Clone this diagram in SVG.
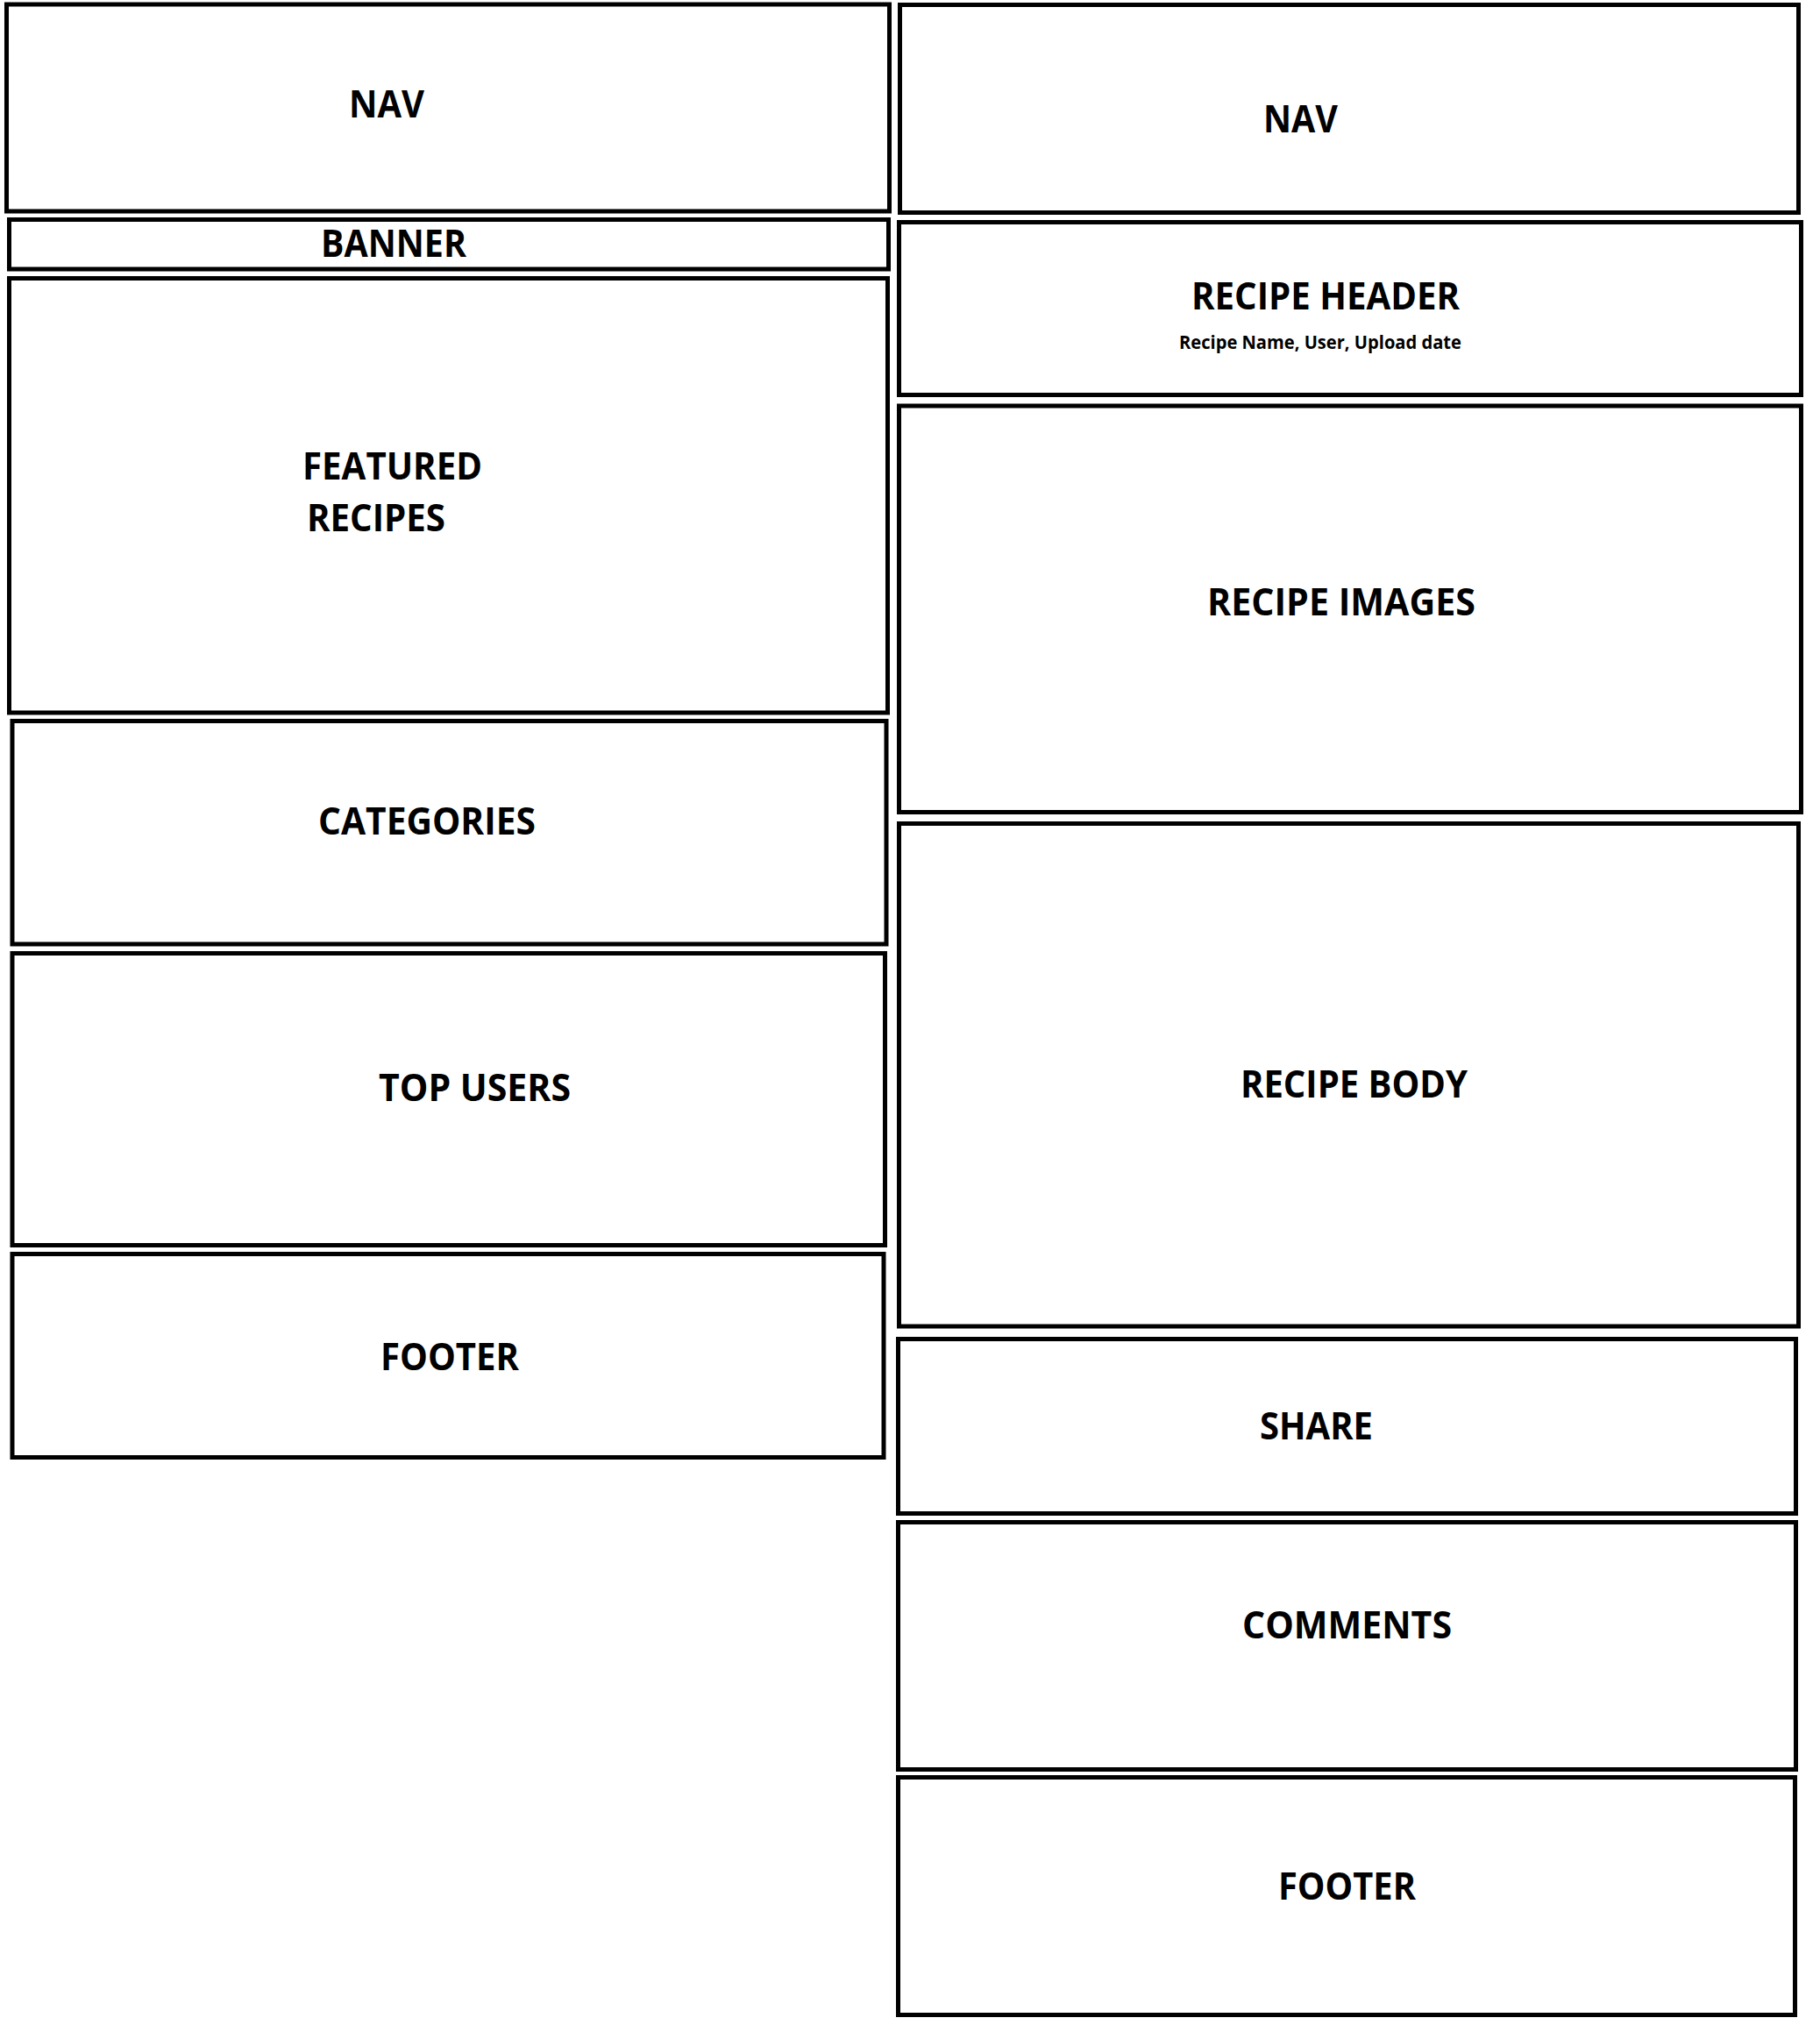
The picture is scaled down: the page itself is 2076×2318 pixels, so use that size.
<svg xmlns="http://www.w3.org/2000/svg" width="2076" height="2318" viewBox="0 0 2076 2318">
  <style>
    .box { fill: #ffffff; stroke: #000000; stroke-width: 5; }
    .lbl { font-family: "Open Sans", "Liberation Sans", sans-serif; font-weight: 700; font-size: 43px; fill: #000000; }
    .sub { font-family: "Open Sans", "Liberation Sans", sans-serif; font-weight: 700; font-size: 21px; fill: #000000; }
  </style>
  <rect width="2076" height="2318" fill="#ffffff"/>

  <!-- Home page wireframe -->
  <g id="home-nav">
    <rect class="box" x="7.5" y="5" width="1007" height="236"/>
    <text class="lbl" x="398" y="134" textLength="86" lengthAdjust="spacingAndGlyphs">NAV</text>
  </g>
  <g id="home-banner">
    <rect class="box" x="10.5" y="250.5" width="1003" height="56.5"/>
    <text class="lbl" x="366" y="293" textLength="166" lengthAdjust="spacingAndGlyphs">BANNER</text>
  </g>
  <g id="home-featured">
    <rect class="box" x="10.5" y="317.5" width="1002" height="495.5"/>
    <text class="lbl" x="345" y="547" textLength="205" lengthAdjust="spacingAndGlyphs">FEATURED</text>
    <text class="lbl" x="350" y="606" textLength="158" lengthAdjust="spacingAndGlyphs">RECIPES</text>
  </g>
  <g id="home-categories">
    <rect class="box" x="14" y="822.5" width="997" height="254.5"/>
    <text class="lbl" x="363" y="952" textLength="248" lengthAdjust="spacingAndGlyphs">CATEGORIES</text>
  </g>
  <g id="home-top-users">
    <rect class="box" x="14" y="1087.5" width="995.5" height="333"/>
    <text class="lbl" x="432" y="1256" textLength="219" lengthAdjust="spacingAndGlyphs">TOP USERS</text>
  </g>
  <g id="home-footer">
    <rect class="box" x="14" y="1430.5" width="994" height="232"/>
    <text class="lbl" x="434" y="1563" textLength="158" lengthAdjust="spacingAndGlyphs">FOOTER</text>
  </g>

  <!-- Recipe page wireframe -->
  <g id="recipe-nav">
    <rect class="box" x="1026.5" y="5.5" width="1025" height="237"/>
    <text class="lbl" x="1441" y="151" textLength="85" lengthAdjust="spacingAndGlyphs">NAV</text>
  </g>
  <g id="recipe-header">
    <rect class="box" x="1025.5" y="253.5" width="1029" height="197"/>
    <text class="lbl" x="1359" y="353" textLength="306" lengthAdjust="spacingAndGlyphs">RECIPE HEADER</text>
    <text class="sub" x="1345" y="398" textLength="322" lengthAdjust="spacingAndGlyphs">Recipe Name, User, Upload date</text>
  </g>
  <g id="recipe-images">
    <rect class="box" x="1025.5" y="463" width="1029" height="463.5"/>
    <text class="lbl" x="1377" y="702" textLength="306" lengthAdjust="spacingAndGlyphs">RECIPE IMAGES</text>
  </g>
  <g id="recipe-body">
    <rect class="box" x="1025.5" y="939.5" width="1026" height="573.5"/>
    <text class="lbl" x="1415" y="1252" textLength="259" lengthAdjust="spacingAndGlyphs">RECIPE BODY</text>
  </g>
  <g id="recipe-share">
    <rect class="box" x="1024.5" y="1527.5" width="1024" height="199"/>
    <text class="lbl" x="1437" y="1642" textLength="129" lengthAdjust="spacingAndGlyphs">SHARE</text>
  </g>
  <g id="recipe-comments">
    <rect class="box" x="1024.5" y="1736.5" width="1024" height="282"/>
    <text class="lbl" x="1417" y="1869" textLength="239" lengthAdjust="spacingAndGlyphs">COMMENTS</text>
  </g>
  <g id="recipe-footer">
    <rect class="box" x="1024.5" y="2027.5" width="1023" height="271"/>
    <text class="lbl" x="1458" y="2167" textLength="157" lengthAdjust="spacingAndGlyphs">FOOTER</text>
  </g>

  <!-- no connectors in this layout -->
  <g id="connectors"/>
</svg>
